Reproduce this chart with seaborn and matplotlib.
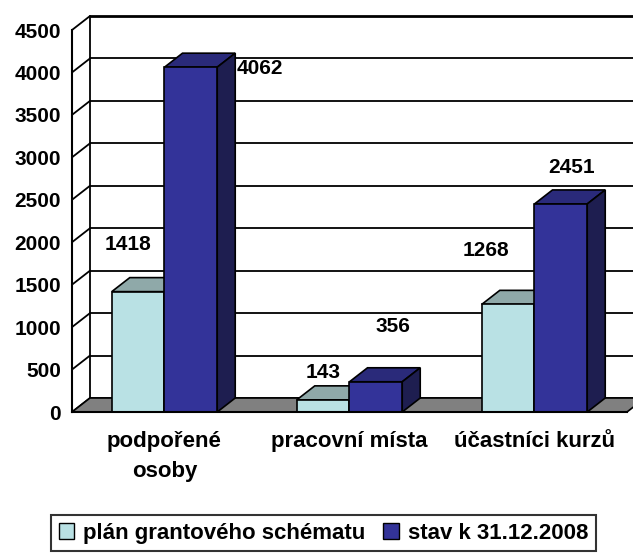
import pandas as pd
import matplotlib
matplotlib.use('Agg')
import matplotlib.pyplot as plt
import seaborn as sns
from matplotlib.patches import Polygon, Patch

# Data
kategorie = ['podpořené\nosoby', 'pracovní místa', 'účastníci kurzů']
plan = [1418, 143, 1268]
stav = [4062, 356, 2451]
serie = ['plán grantového schématu', 'stav k 31.12.2008']
y_ticks = [0, 500, 1000, 1500, 2000, 2500, 3000, 3500, 4000, 4500]

dados = pd.DataFrame({
    'kategorie': kategorie * 2,
    'hodnota': plan + stav,
    'serie': [serie[0]] * 3 + [serie[1]] * 3,
})

# Barvy (front, top, side)
barvy = {
    serie[0]: ('#B9E1E4', '#8FA9A9', '#7F9A9A'),
    serie[1]: ('#333399', '#2A2A7A', '#1E1E50'),
}

sns.set_style('white')
plt.rcParams['font.family'] = ['Liberation Sans', 'DejaVu Sans']
plt.rcParams['font.weight'] = 'bold'
plt.rcParams['text.color'] = 'black'
plt.rcParams['xtick.color'] = 'black'
plt.rcParams['ytick.color'] = 'black'
FS = 15

W, H, DPI = 633, 553, 100
fig = plt.figure(figsize=(W / DPI, H / DPI), dpi=DPI)
ax_l, ax_b, ax_w, ax_h = 72, 412, 555, 382   # pixel box of the front plane
ax = fig.add_axes([ax_l / W, (H - ax_b) / H, ax_w / W, ax_h / H])

sns.barplot(data=dados, x='kategorie', y='hodnota', hue='serie',
            palette=[barvy[s][0] for s in serie], saturation=1, width=0.57,
            edgecolor='black', linewidth=1.2, legend=False, ax=ax)

ax.set_xlim(-0.5, 2.5)
ax.set_ylim(0, 4500)

# hloubka 3D v pixelech -> datove jednotky
DXp, DYp = 18, 14
dx = DXp / ax_w * 3.0
dy = DYp / ax_h * 4500.0

# zadni stena + bocni cary
for t in y_ticks:
    ax.plot([-0.5, -0.5 + dx], [t, t + dy], color='black', lw=1.3,
            clip_on=False, zorder=0.5)
    ax.plot([-0.5 + dx, 3.0], [t + dy, t + dy], color='black',
            lw=2.0 if t == 4500 else 1.3, clip_on=False, zorder=0.5)
ax.plot([-0.5 + dx, -0.5 + dx], [dy, 4500 + dy], color='black', lw=1.3,
        clip_on=False, zorder=0.5)

# podlaha
floor = Polygon([(-0.5, 0), (2.5, 0), (2.5 + dx, dy), (-0.5 + dx, dy)],
                closed=True, facecolor='#808080', edgecolor='black', lw=1.2,
                clip_on=False, zorder=1)
ax.add_patch(floor)

# 3D steny sloupcu
for i, (cont, s) in enumerate(zip(ax.containers, serie)):
    front, top, side = barvy[s]
    z = 3 + 2 * i
    for bar in cont:
        x0 = bar.get_x()
        x1 = x0 + bar.get_width()
        h = bar.get_height()
        bar.set_zorder(z + 1)
        bar.set_clip_on(False)
        ax.add_patch(Polygon([(x0, h), (x1, h), (x1 + dx, h + dy), (x0 + dx, h + dy)],
                             closed=True, facecolor=top, edgecolor='black', lw=1.2,
                             clip_on=False, zorder=z))
        ax.add_patch(Polygon([(x1, 0), (x1 + dx, dy), (x1 + dx, h + dy), (x1, h)],
                             closed=True, facecolor=side, edgecolor='black', lw=1.2,
                             clip_on=False, zorder=z))

# popisky hodnot (posun v bodech od stredu horni hrany)
posuny = [[(-7, 34), (0, 20), (-16, 39)],
          [(50, -1), (12, 40), (8, 26)]]
for cont, pos in zip(ax.containers, posuny):
    for bar, (ox, oy) in zip(cont, pos):
        ax.annotate(f'{int(bar.get_height())}',
                    (bar.get_x() + bar.get_width() / 2, bar.get_height()),
                    xytext=(ox, oy), textcoords='offset points',
                    ha='center', va='center', fontsize=FS, fontweight='bold',
                    zorder=10, annotation_clip=False)

# osy
sns.despine(ax=ax, top=True, right=True)
for sp in ['left', 'bottom']:
    ax.spines[sp].set_linewidth(1.5)
    ax.spines[sp].set_color('black')
    ax.spines[sp].set_zorder(9)
ax.set_yticks(y_ticks)
ax.set_xticks([0, 1, 2])
ax.set_xticks([-0.5, 0.5, 1.5, 2.5], minor=True)
ax.tick_params(axis='x', which='major', length=0, pad=14, labelsize=16)
ax.tick_params(axis='x', which='minor', length=5, width=1.3, direction='out')
ax.tick_params(axis='y', length=5, width=1.3, direction='out', labelsize=FS, pad=3)
ax.set_xticklabels(kategorie, fontweight='bold', linespacing=1.55)
for lab in ax.get_yticklabels():
    lab.set_fontweight('bold')
ax.set_xlabel('')
ax.set_ylabel('')

# legenda
handles = [Patch(facecolor=barvy[s][0], edgecolor='black', label=s) for s in serie]
leg = fig.legend(handles=handles, loc='upper center', bbox_to_anchor=(0.511, 0.069),
                 ncol=2, frameon=True, fancybox=False, edgecolor='black',
                 handlelength=0.7, handleheight=0.7, borderaxespad=0,
                 handletextpad=0.4, columnspacing=0.8, borderpad=0.35,
                 prop={'weight': 'bold', 'size': 16})
leg.get_frame().set_linewidth(1.5)

fig.savefig('out.png', dpi=DPI)
